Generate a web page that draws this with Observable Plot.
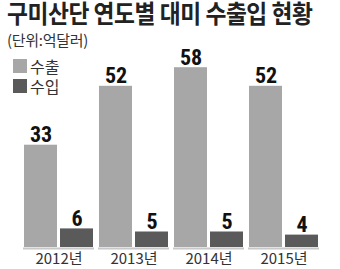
<!DOCTYPE html>
<html>
<head>
<meta charset="utf-8">
<script src="https://cdn.jsdelivr.net/npm/d3@7"></script>
<script src="https://cdn.jsdelivr.net/npm/@observablehq/plot@0.6"></script>
<style>
  html, body { margin: 0; padding: 0; background: #fff; }
  body { width: 340px; height: 269px; position: relative; overflow: hidden; font-family: "Noto Sans CJK KR", sans-serif; }
  #title { position: absolute; left: 7px; top: 0px; font-size: 25px; line-height: 25px; font-weight: 700; color: #222; white-space: nowrap; letter-spacing: -0.5px; transform: scaleX(0.91); transform-origin: 0 0; }
  #sub { position: absolute; left: 7px; top: 32px; font-size: 15px; line-height: 15px; color: #333; white-space: nowrap; letter-spacing: -0.3px; }
  #legend { position: absolute; left: 13px; top: 56px; font-size: 16px; color: #333; line-height: 20px; }
  #legend .row { display: flex; align-items: center; height: 20px; }
  #legend .sw { width: 14px; height: 14px; margin-right: 3px; }
  #chart { position: absolute; left: 0; top: 44px; }
</style>
</head>
<body>
<div id="title"></div>
<div id="sub"></div>
<div id="legend"></div>
<div id="chart"></div>
<script>
const titleText = "구미산단 연도별 대미 수출입 현황";
const subtitleText = "(단위:억달러)";
const years = ["2012년", "2013년", "2014년", "2015년"];
const series = ["수출", "수입"];
const exports = [33, 52, 58, 52];
const imports = [6, 5, 5, 4];
const colors = ["#a7a7a7", "#5a5a5a"];

document.getElementById("title").textContent = titleText;
document.getElementById("sub").textContent = subtitleText;
const leg = document.getElementById("legend");
series.forEach((s, i) => {
  const row = document.createElement("div");
  row.className = "row";
  const sw = document.createElement("div");
  sw.className = "sw";
  sw.style.background = colors[i];
  const t = document.createElement("span");
  t.textContent = s;
  row.appendChild(sw);
  row.appendChild(t);
  leg.appendChild(row);
});

const data = [];
years.forEach((y, i) => {
  data.push({year: y, type: series[0], value: exports[i]});
  data.push({year: y, type: series[1], value: imports[i]});
});

const chart = Plot.plot({
  width: 340,
  height: 225,
  marginTop: 17,
  marginBottom: 22,
  marginLeft: 22,
  marginRight: 21,
  style: {fontFamily: "'Noto Sans CJK KR', sans-serif", background: "transparent"},
  fx: {domain: years, paddingInner: 0.056, paddingOuter: 0, label: null, tickSize: 0, tickPadding: 6},
  x: {domain: series, paddingInner: 0.08, paddingOuter: 0, axis: null},
  y: {domain: [0, 60], axis: null},
  color: {domain: series, range: colors},
  marks: [
    Plot.ruleY([0], {stroke: "#c8c8c8", strokeWidth: 2, dy: 1}),
    Plot.barY(data, {fx: "year", x: "type", y: "value", fill: "type"}),
    Plot.text(data, {fx: "year", x: "type", y: "value", text: d => String(d.value), dy: -10,
      fontSize: 22, fontWeight: "bold", fill: "#111", fontFamily: "'Liberation Sans Narrow', 'Roboto Condensed', sans-serif"})
  ]
});
chart.querySelectorAll('g[aria-label="fx-axis tick label"] text, g[aria-label="fx-axis"] text').forEach(t => {
  t.setAttribute("font-size", "15");
  t.style.fontSize = "15px";
  t.setAttribute("fill", "#333");
});
document.getElementById("chart").appendChild(chart);
</script>
</body>
</html>
